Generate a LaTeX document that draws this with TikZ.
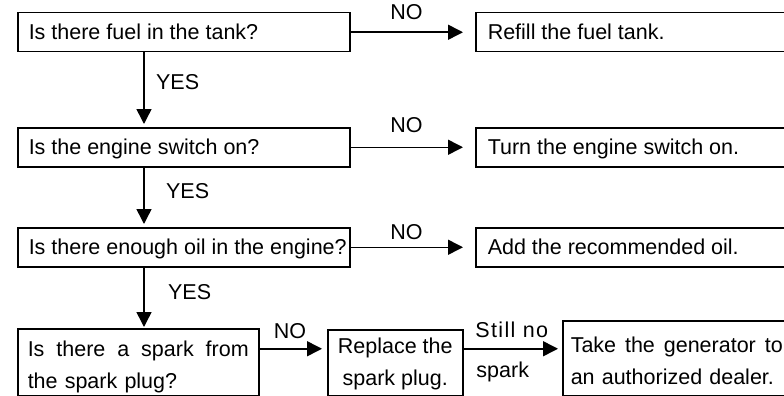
\documentclass[tikz,border=0pt]{standalone}
\usepackage{fontspec}
\setmainfont{Liberation Sans}
\usetikzlibrary{arrows.meta,positioning}
\tikzstyle{question} = [draw, line width=1.5pt, rectangle, anchor=north west, inner xsep=11pt, inner ysep=0pt, minimum height=39pt, text height=15.4pt, text depth=0pt, align=justify, font=\fontsize{21.5}{31.5}\selectfont]
\tikzstyle{twoline} = [draw, line width=1.5pt, rectangle, anchor=north west, inner xsep=10pt, inner ysep=0pt, font=\fontsize{21.5}{31.5}\selectfont]
\tikzstyle{yesno} = [font=\fontsize{21.5}{25}\selectfont]
\tikzstyle{arrowline} = [line width=1.5pt, -{Triangle[length=15pt,width=15pt]}]

\begin{document}
\begin{tikzpicture}[x=1pt, y=-1pt]
	\useasboundingbox (0,0) rectangle (784,396);
	\clip (0,0) rectangle (784,396);
	% questions on the left
	\node[question, text width=310pt] (fuel) at (17,12) {Is there fuel in the tank?};
	\node[question, text width=310pt] (switch) at (17,127) {Is the engine switch on?};
	\node[question, text width=310pt] (oil) at (17,227) {\mbox{Is there enough oil in the engine?}};
	\node[twoline, text width=221pt, align=left] (spark) at (17,328)
		{\rule{0pt}{28pt}\makebox[221pt][l]{Is\hfill there\hfill a\hfill spark\hfill from}\\the spark plug?\rule[-7.5pt]{0pt}{7.5pt}};
	% what to do
	\node[question, text width=316pt, inner xsep=12pt] (refill) at (475,12) {Refill the fuel tank.};
	\node[question, text width=316pt, inner xsep=12pt] (turnon) at (475,127) {Turn the engine switch on.};
	\node[question, text width=316pt, inner xsep=12pt] (addoil) at (475,227) {Add the recommended oil.};
	\node[twoline, align=center, minimum width=135pt, inner xsep=0pt] (replace) at (327,329)
		{\rule{0pt}{24pt}Replace the\\spark plug.\rule[-10.5pt]{0pt}{10.5pt}};
	\node[twoline, text width=212pt, inner xsep=8pt, align=left] (dealer) at (562,320)
		{\rule{0pt}{32pt}\makebox[212pt][l]{Take\hfill the\hfill generator\hfill to}\\an authorized dealer.\rule[-11.5pt]{0pt}{11.5pt}};
	% YES arrows
	\draw[arrowline, shorten >=3pt] ([xshift=127pt]fuel.south west) -- node[yesno, pos=.4, right=8pt] {YES} ([xshift=127pt]switch.north west);
	\draw[arrowline, shorten >=3pt] ([xshift=127pt]switch.south west) -- node[yesno, pos=.4, right=18pt] {YES} ([xshift=127pt]oil.north west);
	\draw[arrowline, shorten >=1pt] ([xshift=127pt]oil.south west) -- node[yesno, pos=.4, right=20pt] {YES} ([xshift=127pt]spark.north west);
	% NO arrows
	\draw[arrowline, shorten >=12pt] (fuel) -- node[yesno, pos=.45, above=8pt] {NO} (refill);
	\draw[arrowline, shorten >=12pt] (switch) -- node[yesno, pos=.45, above=10pt] {NO} (turnon);
	\draw[arrowline, shorten >=12pt] (oil) -- node[yesno, pos=.45, above=3pt] {NO} (addoil);
	\coordinate (s4) at ([yshift=13.5pt]spark.east);
	\draw[arrowline, shorten >=5pt] (s4) -- node[yesno, pos=.45, above=6pt] {NO} (s4 -| replace.west);
	\coordinate (s5) at ([yshift=14pt]replace.east);
	\draw[arrowline, shorten >=4pt] (s5) -- node[yesno, above=7pt, xshift=-1pt] {\addfontfeature{LetterSpace=6.5}Still no} node[yesno, below=9pt, xshift=-10pt] {spark} (s5 -| dealer.west);
\end{tikzpicture}
\end{document}
